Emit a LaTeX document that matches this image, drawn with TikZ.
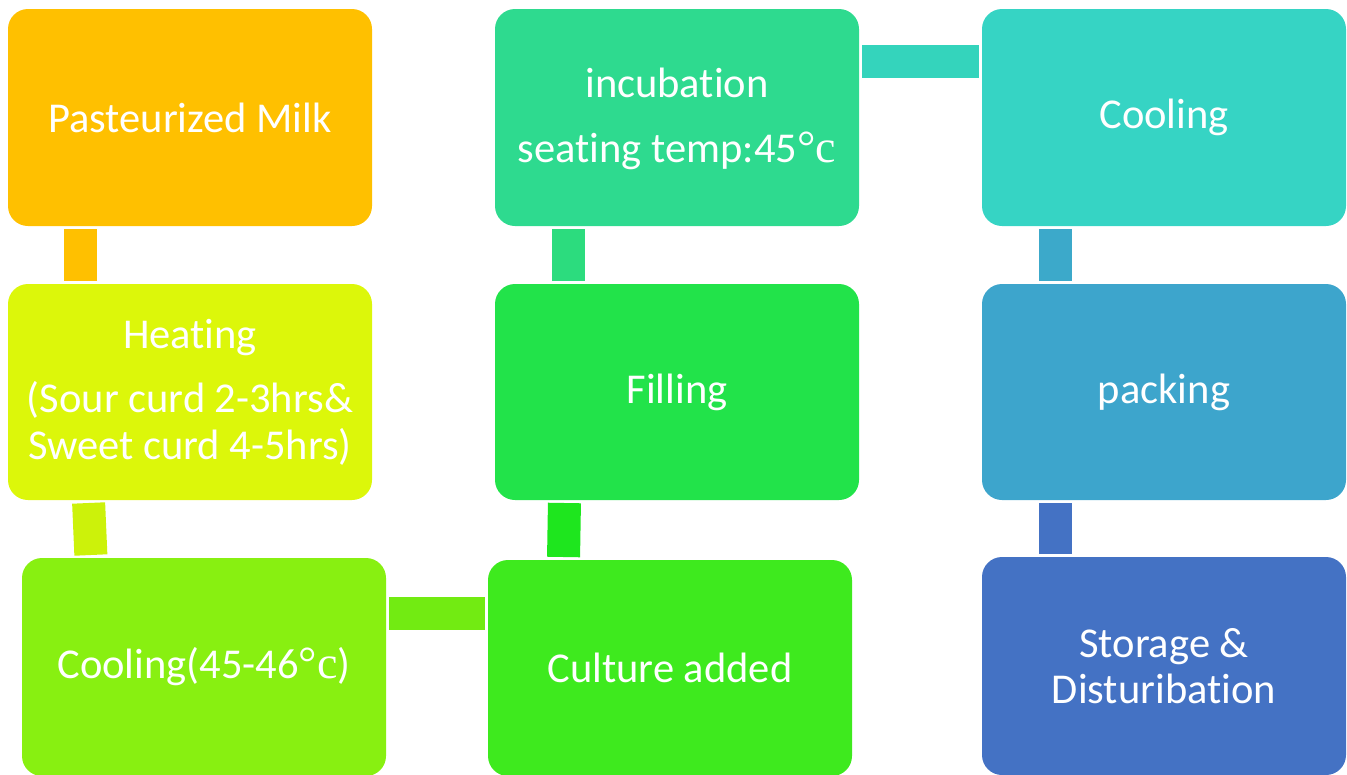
\documentclass[tikz,border=0pt]{standalone}
\usepackage{fontspec}
\setmainfont[Ligatures=NoCommon]{Carlito}
\newfontfamily\degfont{Liberation Serif}
\newcommand{\degc}{{\degfont\fontsize{46}{46}\selectfont °c}}
\definecolor{c1}{HTML}{FFC000}
\definecolor{c2}{HTML}{DCF70A}
\definecolor{k2}{HTML}{CCF20A}
\definecolor{c3}{HTML}{88F011}
\definecolor{k3}{HTML}{72EB12}
\definecolor{c4}{HTML}{3EEA1E}
\definecolor{k4}{HTML}{1EE61E}
\definecolor{c5}{HTML}{22E34A}
\definecolor{k5}{HTML}{2CDC7E}
\definecolor{c6}{HTML}{2EDA8F}
\definecolor{k6}{HTML}{34D4BC}
\definecolor{c7}{HTML}{36D4C4}
\definecolor{k7}{HTML}{3CA9CA}
\definecolor{c8}{HTML}{3DA5CC}
\definecolor{c9}{HTML}{4472C4}
\begin{document}
\begin{tikzpicture}[x=1pt,y=-1pt,
  stepbox/.style={rounded corners=20pt, minimum width=364pt, inner sep=4pt, outer sep=0pt,
    text=white, align=center, font=\fontsize{42.5}{46.5}\selectfont},
  link/.style={line width=33pt, line cap=butt, shorten <=3pt, shorten >=3pt}]
\useasboundingbox (0,0) rectangle (1347,774);
\begin{scope}
\clip (0,0) rectangle (1347,774);
\node[stepbox, fill=c1, minimum height=217pt] (n1) at (190,117.5) {Pasteurized Milk};
\node[stepbox, fill=c2, minimum height=216pt] (n2) at (190,392) {Heating\\[18pt](Sour curd 2-3hrs\&\\Sweet curd 4-5hrs)};
\node[stepbox, fill=c3, minimum height=218pt] (n3) at (204,667) {Cooling(45-46\degc)};
\node[stepbox, fill=c4, minimum height=216pt] (n4) at (670,668) {Culture added};
\node[stepbox, fill=c5, minimum height=216pt] (n5) at (677,392) {Filling};
\node[stepbox, fill=c6, minimum height=217pt] (n6) at (677,117.5) {\\[-14pt]incubation\\[18pt]seating temp:45\degc};
\node[stepbox, fill=c7, minimum height=217pt] (n7) at (1164,117.5) {Cooling};
\node[stepbox, fill=c8, minimum height=216pt] (n8) at (1164,392) {packing};
\node[stepbox, fill=c9, minimum height=218pt] (n9) at (1164,666) {Storage \&\\Disturibation};
\end{scope}
\draw[link, c1] ([xshift=72.5pt]n1.south west) -- ([xshift=72.5pt]n2.north west);
\draw[link, k2] ([xshift=80.5pt]n2.south west) -- ([xshift=69pt]n3.north west);
\draw[link, k3] ([yshift=-55.5pt]n3.north east) -- ([yshift=-53.5pt]n4.north west);
\draw[link, k4] ([xshift=75.5pt]n4.north west) -- ([xshift=69.5pt]n5.south west);
\draw[link, k5] ([xshift=73.5pt]n5.north west) -- ([xshift=73.5pt]n6.south west);
\draw[link, k6] ([yshift=-52.5pt]n6.north east) -- ([yshift=-52.5pt]n7.north west);
\draw[link, k7] ([xshift=73.5pt]n7.south west) -- ([xshift=73.5pt]n8.north west);
\draw[link, c9] ([xshift=73.5pt]n8.south west) -- ([xshift=73.5pt]n9.north west);
\end{tikzpicture}
\end{document}
